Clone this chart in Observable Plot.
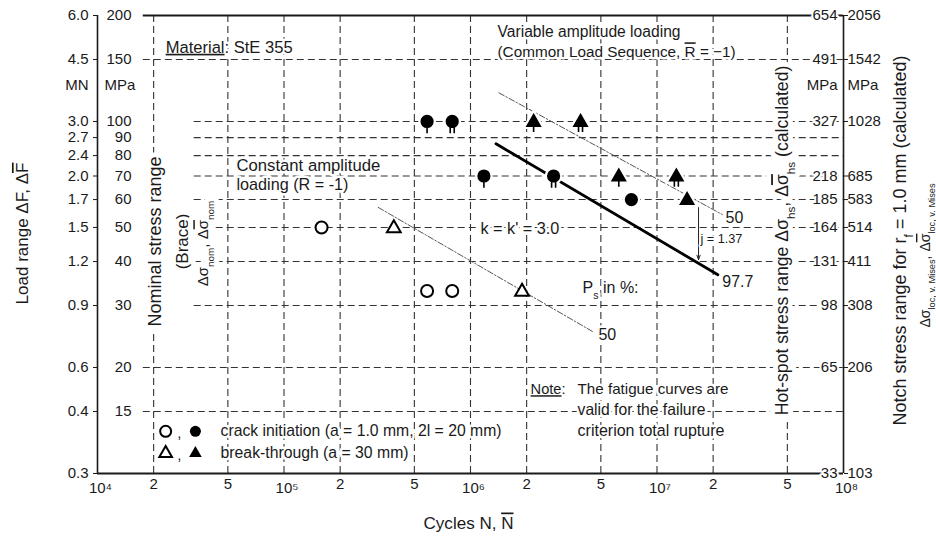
<!DOCTYPE html>
<html><head><meta charset="utf-8">
<script src="https://cdn.jsdelivr.net/npm/d3@7"></script>
<script src="https://cdn.jsdelivr.net/npm/@observablehq/plot@0.6"></script>
<style>body{margin:0;background:#fff}</style>
</head><body><div id="chart"></div>
<script>
// ---- data (N = cycles, S = nominal stress range in MPa) ----
const caInitN = [1.59e5, 5.85e5, 7.98e5];
const caInitS = [50, 33, 33];
const caBreakN = [3.88e5, 1.89e6];
const caBreakS = [50, 33];
const vaInitN = [5.85e5, 7.98e5, 1.18e6, 2.79e6, 7.29e6];
const vaInitS = [100, 100, 70, 70, 60];
const vaInitStems = [1, 2, 1, 2, 0];
const vaBreakN = [2.18e6, 3.89e6, 6.24e6, 1.27e7, 1.45e7];
const vaBreakS = [100, 100, 70, 70, 60];
const vaBreakStems = [1, 2, 1, 2, 0];
const caMean50N = [3.20e5, 4.58e6];
const caMean50S = [57.0, 25.2];
const vaMean50N = [1.42e6, 2.24e7];
const vaMean50S = [120.6, 54.4];
const va977N = [1.37e6, 2.12e7];
const va977S = [86.4, 36.7];
const jArrowN = [1.67e7];
const jArrowS = [57.1, 40.5];

// ---- ticks and labels ----
const yLeftTicks = [200, 150, 100, 90, 80, 70, 60, 50, 40, 30, 20, 15, 10];
const mpaLabels = ["200", "150", "100", "90", "80", "70", "60", "50", "40", "30", "20", "15", ""];
const mnLabels = ["6.0", "4.5", "3.0", "2.7", "2.4", "2.0", "1.7", "1.5", "1.2", "0.9", "0.6", "0.4", "0.3"];
const yRightTicks = [200, 150, 100, 70, 60, 50, 40, 30, 20, 10];
const hotSpotLabels = ["654", "491", "327", "218", "185", "164", "131", "98", "65", "33"];
const notchLabels = ["2056", "1542", "1028", "685", "583", "514", "411", "308", "206", "103"];
const xDecades = [1e4, 1e5, 1e6, 1e7, 1e8];
const xDecadeLabels = ["10⁴", "10⁵", "10⁶", "10⁷", "10⁸"];
const xMinor = [2e4, 5e4, 2e5, 5e5, 2e6, 5e6, 2e7, 5e7];
const xMinorLabels = ["2", "5", "2", "5", "2", "5", "2", "5"];
const hGridOuter = [150, 20, 15];
const hGridInner = [100, 90, 80, 70, 60, 50, 40, 30];
const vGrid = [2e4, 5e4, 1e5, 2e5, 5e5, 1e6, 2e6, 5e6, 1e7, 2e7, 5e7];

// ---- tables ----
const pts = (N, S, st) => N.map((n, i) => ({N: n, S: S[i], stems: st ? st[i] : 0}));
const caInit = pts(caInitN, caInitS);
const caBreak = pts(caBreakN, caBreakS);
const vaInit = pts(vaInitN, vaInitS, vaInitStems);
const vaBreak = pts(vaBreakN, vaBreakS, vaBreakStems);
const line = (N, S) => N.map((n, i) => ({N: n, S: S[i]}));

// ---- custom symbols ----
function stems(ctx, yb, n) {
  if (n === 1) { ctx.moveTo(0, yb); ctx.lineTo(0, yb + 6); }
  if (n === 2) { ctx.moveTo(-2, yb - 1); ctx.lineTo(-2, yb + 6); ctx.moveTo(2, yb - 1); ctx.lineTo(2, yb + 6); }
}
const circleSym = n => ({draw(ctx, size) {
  const r = Math.sqrt(size / Math.PI);
  ctx.moveTo(r, 0); ctx.arc(0, 0, r, 0, 2 * Math.PI); ctx.closePath(); stems(ctx, r, n);
}});
const triSym = n => ({draw(ctx, size) {
  const r = Math.sqrt(size / Math.PI); const h = 2 * r, w = 2.3 * r;
  ctx.moveTo(0, -0.6 * h); ctx.lineTo(w / 2, 0.4 * h); ctx.lineTo(-w / 2, 0.4 * h); ctx.closePath();
  stems(ctx, 0.4 * h, n);
}});

const gridStyle = {stroke: "#333", strokeWidth: 1.1, strokeDasharray: "7,4"};
const outerStart = 1.76e4, innerStart = 3.3e4;
const ink = "#1a1a1a";
const ann = (N, S, text, o = {}) => Plot.text([{N, S, text}], {x: "N", y: "S", text: "text", textAnchor: "start", fontSize: 15, fill: ink, stroke: "white", strokeWidth: 5, ...o});
const frameText = (text, o) => Plot.text([text], {text: d => d, fill: ink, textAnchor: "middle", ...o});

const filledMarks = (data, symf) => [0, 1, 2].flatMap(k => [
  Plot.dot(data.filter(d => d.stems === k), {x: "N", y: "S", r: 5.8, symbol: symf(k), fill: "white", stroke: "white", strokeWidth: 6}),
  Plot.dot(data.filter(d => d.stems === k), {x: "N", y: "S", r: 5.8, symbol: symf(k), fill: "black", stroke: "black", strokeWidth: 1.6})
]);

// text widths (px) measured on the reference, used to fit font sizes
const textWidths = {
  "Variable amplitude loading": 183,
  "(Common Load Sequence, {~R} = −1)": 238,
  "{uMaterial}: StE 355": 127,
  "Constant amplitude": 144,
  "loading (R = -1)": 112,
  "k = k' = 3.0": 79,
  "P{_s} in %:": 56,
  "{uNote}:": 35,
  "The fatigue curves are": 151,
  "valid for the failure": 128,
  "criterion total rupture": 147,
  "crack initiation (a = 1.0 mm, 2l = 20 mm)": 281,
  "break-through (a = 30 mm)": 188,
  "97.7": 31,
  "j = 1.37": 42,
  "Cycles N, {~N}": 90,
  "Hot-spot stress range Δσ{_hs}, Δ{~σ}{_hs} (calculated)": 350,
  "Notch stress range for r{_f} = 1.0 mm (calculated)": 370
};

const chart = Plot.plot({
  width: 936, height: 547,
  marginLeft: 97, marginRight: 93, marginTop: 15, marginBottom: 74,
  x: {type: "log", domain: [1e4, 1e8], axis: null},
  y: {type: "log", domain: [10, 200], axis: null},
  style: {fontFamily: "'Liberation Sans', Arial, sans-serif", fontSize: "15px", background: "white", overflow: "visible"},
  marks: [
    // grid
    Plot.ruleY(hGridOuter, {y: d => d, x1: outerStart, x2: 1e8, ...gridStyle}),
    Plot.ruleY(hGridInner, {y: d => d, x1: innerStart, x2: 1e8, ...gridStyle}),
    Plot.ruleX(vGrid, {x: d => d, ...gridStyle}),
    // frame
    Plot.ruleX([1e4], {x: d => d, stroke: ink, strokeWidth: 1.6}),
    Plot.ruleX([1e8], {x: d => d, stroke: ink, strokeWidth: 1.6}),
    Plot.ruleY([10], {y: d => d, stroke: ink, strokeWidth: 2.2}),
    Plot.ruleY([200], {y: d => d, x1: outerStart, x2: 1e8, stroke: ink, strokeWidth: 2.2}),
    Plot.axisY({anchor: "left", ticks: yLeftTicks, tickSize: 4, tickFormat: () => "", label: null, stroke: ink}),
    Plot.axisY({anchor: "right", ticks: yRightTicks, tickSize: 4, tickFormat: () => "", label: null, stroke: ink}),
    // fatigue lines
    Plot.line(line(caMean50N, caMean50S), {x: "N", y: "S", stroke: "#555", strokeWidth: 1, strokeDasharray: "6,2,1.5,2"}),
    Plot.line(line(vaMean50N, vaMean50S), {x: "N", y: "S", stroke: "#555", strokeWidth: 1, strokeDasharray: "6,2,1.5,2"}),
    Plot.line(line(va977N, va977S), {x: "N", y: "S", stroke: "black", strokeWidth: 2.8}),
    Plot.arrow([{N: jArrowN[0], S1: jArrowS[0], S2: jArrowS[1]}], {x1: "N", x2: "N", y1: "S1", y2: "S2", stroke: "#222", strokeWidth: 1, headLength: 7, headAngle: 40}),
    // data markers
    Plot.dot(caInit, {x: "N", y: "S", r: 6, symbol: "circle", fill: "white", stroke: "black", strokeWidth: 2}),
    Plot.dot(caBreak, {x: "N", y: "S", r: 6, symbol: triSym(0), fill: "white", stroke: "black", strokeWidth: 2}),
    ...filledMarks(vaInit, circleSym),
    ...filledMarks(vaBreak, triSym),
    // left tick labels
    Plot.text(yLeftTicks, {y: d => d, text: (d, i) => mnLabels[i], frameAnchor: "left", dx: -9, textAnchor: "end", fill: ink}),
    Plot.text(yLeftTicks, {y: d => d, text: (d, i) => mpaLabels[i], frameAnchor: "left", dx: 34, textAnchor: "end", fill: ink}),
    Plot.text([127], {y: d => d, text: () => "MN", frameAnchor: "left", dx: -9, textAnchor: "end", fill: ink}),
    Plot.text([127], {y: d => d, text: () => "MPa", frameAnchor: "left", dx: 7, textAnchor: "start", fill: ink}),
    // right tick labels
    Plot.text(yRightTicks, {y: d => d, text: (d, i) => hotSpotLabels[i], frameAnchor: "right", dx: -6, textAnchor: "end", fill: ink, stroke: "white", strokeWidth: 4}),
    Plot.text(yRightTicks, {y: d => d, text: (d, i) => notchLabels[i], frameAnchor: "right", dx: 4, textAnchor: "start", fill: ink}),
    Plot.text([127], {y: d => d, text: () => "MPa", frameAnchor: "right", dx: -6, textAnchor: "end", fill: ink, stroke: "white", strokeWidth: 4}),
    Plot.text([127], {y: d => d, text: () => "MPa", frameAnchor: "right", dx: 4, textAnchor: "start", fill: ink}),
    // x tick labels
    Plot.text(xMinor, {x: d => d, text: (d, i) => xMinorLabels[i], frameAnchor: "bottom", dy: 15, fill: ink}),
    Plot.text(xDecades, {x: d => d, text: (d, i) => xDecadeLabels[i], frameAnchor: "bottom", dy: 19, dx: 3, fill: ink}),
    // axis titles
    frameText("Load range ΔF, Δ{~F}", {frameAnchor: "left", dx: -75, dy: -11, rotate: -90, fontSize: 17}),
    frameText("Nominal stress range", {frameAnchor: "left", dx: 58, dy: -3, rotate: -90, fontSize: 18, stroke: "white", strokeWidth: 10}),
    frameText("(Brace)", {frameAnchor: "left", dx: 85, dy: -3, rotate: -90, fontSize: 17, stroke: "white", strokeWidth: 10}),
    frameText("Δσ{_nom}, Δ{~σ}{_nom}", {frameAnchor: "left", dx: 106, dy: -1, rotate: -90, fontSize: 15, stroke: "white", strokeWidth: 10}),
    frameText("Hot-spot stress range Δσ{_hs}, Δ{~σ}{_hs} (calculated)", {frameAnchor: "right", dx: -61, dy: -4, rotate: -90, fontSize: 17, stroke: "white", strokeWidth: 10}),
    frameText("Notch stress range for r{_f} = 1.0 mm (calculated)", {frameAnchor: "right", dx: 57, dy: -4, rotate: -90, fontSize: 18}),
    frameText("Δσ{_loc, v. Mises}, Δ{~σ}{_loc, v. Mises}", {frameAnchor: "right", dx: 82, dy: 11, rotate: -90, fontSize: 14}),
    frameText("Cycles N, {~N}", {frameAnchor: "bottom", dx: -2, dy: 55, fontSize: 17}),
    // annotations
    ann(2.32e4, 162.3, "{uMaterial}: StE 355", {fontSize: 16}),
    ann(1.396e6, 179.3, "Variable amplitude loading", {fontSize: 15.5}),
    ann(1.396e6, 157.1, "(Common Load Sequence, {~R} = −1)", {fontSize: 15.2}),
    ann(5.56e4, 75.0, "Constant amplitude", {fontSize: 16}),
    ann(5.56e4, 65.9, "loading (R = -1)", {fontSize: 16}),
    ann(1.13e6, 49.7, "k = k' = 3.0", {fontSize: 16}),
    ann(3.99e6, 33.6, "P{_s} in %:"),
    ann(4.85e6, 24.7, "50", {fontSize: 16}),
    ann(2.33e7, 53.3, "50", {fontSize: 16}),
    ann(2.24e7, 35.1, "97.7", {fontSize: 16}),
    ann(1.71e7, 46.5, "j = 1.37", {fontSize: 12, strokeWidth: 3}),
    ann(2.10e6, 17.32, "{uNote}:", {fontSize: 15}),
    ann(3.75e6, 17.32, "The fatigue curves are", {fontSize: 15}),
    ann(3.75e6, 15.15, "valid for the failure", {fontSize: 15}),
    ann(3.75e6, 13.26, "criterion total rupture", {fontSize: 15}),
    // legend
    Plot.dot([{N: 2.32e4, S: 13.18}], {x: "N", y: "S", r: 5.5, symbol: "circle", fill: "white", stroke: "black", strokeWidth: 2}),
    Plot.dot([{N: 3.35e4, S: 13.18}], {x: "N", y: "S", r: 5.5, symbol: "circle", fill: "black", stroke: "white", strokeWidth: 4}),
    Plot.dot([{N: 3.35e4, S: 13.18}], {x: "N", y: "S", r: 5.5, symbol: "circle", fill: "black"}),
    Plot.dot([{N: 2.32e4, S: 11.47}], {x: "N", y: "S", r: 5.5, symbol: triSym(0), fill: "white", stroke: "black", strokeWidth: 2}),
    Plot.dot([{N: 3.35e4, S: 11.47}], {x: "N", y: "S", r: 5.5, symbol: triSym(0), fill: "black", stroke: "white", strokeWidth: 4}),
    Plot.dot([{N: 3.35e4, S: 11.47}], {x: "N", y: "S", r: 5.5, symbol: triSym(0), fill: "black"}),
    ann(2.68e4, 13.0, ",", {fontSize: 15}),
    ann(2.68e4, 11.3, ",", {fontSize: 15}),
    ann(4.57e4, 13.18, "crack initiation (a = 1.0 mm, 2l = 20 mm)", {fontSize: 15.5}),
    ann(4.57e4, 11.47, "break-through (a = 30 mm)", {fontSize: 15.5})
  ]
});

// rich text: {_x} subscript, {~x} overline, {ux} underline
const strip = s => s.replace(/\{[_~u]([^}]*)\}/g, "$1");
function rich(svg) {
  const re = /\{([_~u])([^}]*)\}/g;
  const touched = new Set();
  svg.querySelectorAll("text").forEach(el => {
    [el, ...el.querySelectorAll("tspan")].forEach(host => {
      Array.from(host.childNodes).forEach(node => {
        if (node.nodeType !== 3) return;
        const s = node.textContent;
        re.lastIndex = 0;
        if (!re.test(s)) return;
        re.lastIndex = 0;
        let last = 0, m;
        const frag = document.createDocumentFragment();
        while ((m = re.exec(s))) {
          if (m.index > last) frag.appendChild(document.createTextNode(s.slice(last, m.index)));
          const t = document.createElementNS("http://www.w3.org/2000/svg", "tspan");
          t.textContent = m[2];
          if (m[1] === "_") { t.setAttribute("baseline-shift", "sub"); t.style.fontSize = "66%"; }
          else if (m[1] === "~") t.setAttribute("text-decoration", "overline");
          else t.setAttribute("text-decoration", "underline");
          frag.appendChild(t);
          last = re.lastIndex;
        }
        if (last < s.length) frag.appendChild(document.createTextNode(s.slice(last)));
        host.replaceChild(frag, node);
        touched.add(el);
      });
    });
  });
  // halo as a separate copy underneath, so tspan halos don't erase neighbouring glyphs
  touched.forEach(el => {
    const g = el.closest("g[stroke]");
    if (!g || g.getAttribute("stroke") === "none") return;
    const halo = el.cloneNode(true);
    halo.setAttribute("fill", "none");
    el.setAttribute("stroke", "none");
    el.parentNode.insertBefore(halo, el);
  });
}
rich(chart);
document.getElementById("chart").appendChild(chart);

// fit font sizes to the widths
const widthByText = new Map(Object.entries(textWidths).map(([k, w]) => [strip(k), w]));
chart.querySelectorAll("text").forEach(t => {
  const w = widthByText.get(t.textContent);
  if (!w) return;
  const len = t.getComputedTextLength();
  if (!(len > 0)) return;
  const fs = parseFloat(getComputedStyle(t).fontSize);
  const k = Math.max(0.75, Math.min(1.35, w / len));
  t.style.fontSize = (fs * k).toFixed(2) + "px";
});
</script>
</body></html>
